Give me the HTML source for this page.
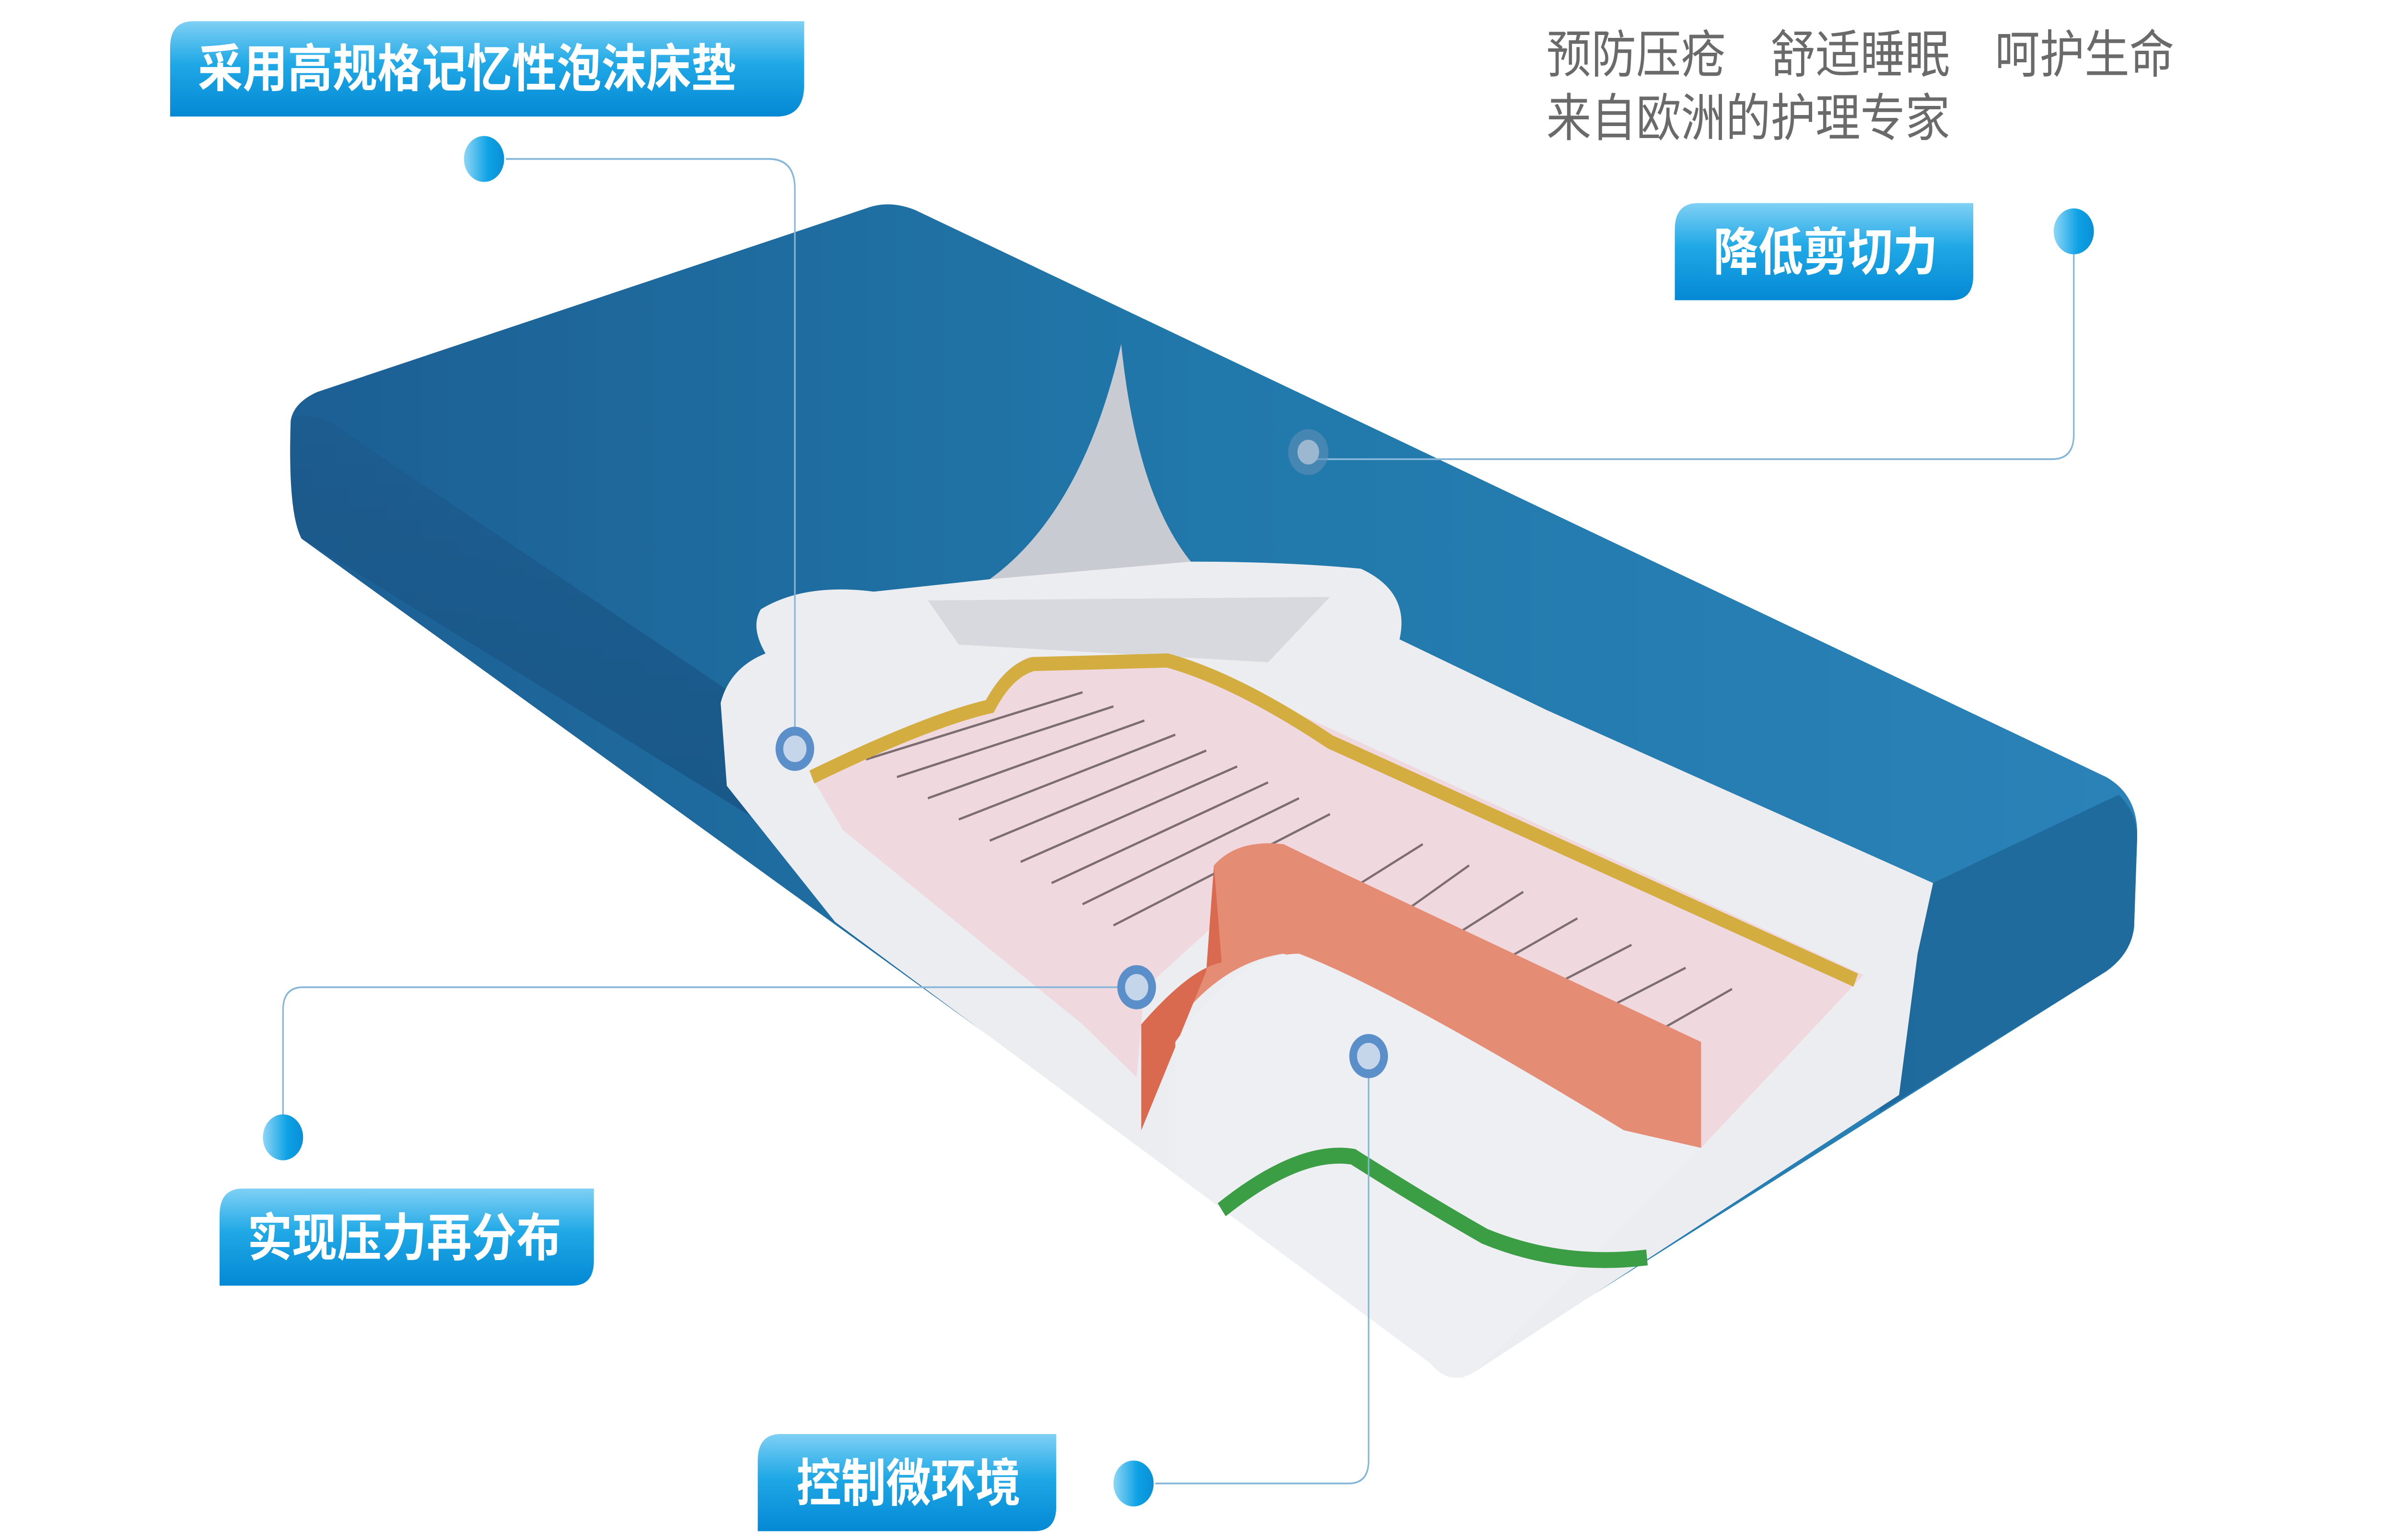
<!DOCTYPE html>
<html><head><meta charset="utf-8"><style>
html,body{margin:0;padding:0;background:#fff;width:100%;height:100%;overflow:hidden;}
svg{display:block;width:100vw;height:100vh;}
text{font-family:"Liberation Sans","Noto Sans CJK SC",sans-serif;}
</style></head><body>
<svg viewBox="0 0 1550 872" preserveAspectRatio="none" xmlns="http://www.w3.org/2000/svg">
<defs>
<linearGradient id="lab" x1="0" y1="0" x2="0" y2="1"><stop offset="0" stop-color="#7fd0f4"/><stop offset="0.45" stop-color="#1fa8e6"/><stop offset="1" stop-color="#0488d4"/></linearGradient>
<linearGradient id="dot" x1="0" y1="0" x2="1" y2="0"><stop offset="0" stop-color="#8fd6f6"/><stop offset="0.6" stop-color="#0ea2e4"/><stop offset="1" stop-color="#0a8ed6"/></linearGradient>
<linearGradient id="blu" x1="0" y1="0" x2="1" y2="0"><stop offset="0" stop-color="#1c5f94"/><stop offset="0.5" stop-color="#2178aa"/><stop offset="1" stop-color="#2a82b8"/></linearGradient>
<linearGradient id="side" x1="0" y1="0" x2="0" y2="1"><stop offset="0" stop-color="#1d5a8c"/><stop offset="1" stop-color="#16507f"/></linearGradient>
</defs>
<path d="M188,238 Q190,228 205,222 L560,118 Q575,113 592,119 L1362,440 Q1382,450 1382,472 L1380,525 Q1378,540 1362,550 L945,780 L195,305 Q186,290 188,238 Z" fill="url(#blu)"/>
<path d="M188,238 Q200,232 215,240 L520,420 L500,470 L195,305 Q186,290 188,238 Z" fill="url(#side)" opacity="0.7"/>
<path d="M1250,500 L1370,450 Q1382,460 1382,475 L1380,525 Q1378,540 1362,550 L1215,630 Z" fill="#1d6597" opacity="0.8"/>
<path d="M492,345 Q520,330 565,335 L640,328 Q700,290 725,195 Q735,280 770,318 Q830,318 880,322 Q912,335 905,362 L1000,402 L1250,500 L1240,540 L1228,620 L955,776 Q938,786 925,772 L540,522 L470,445 L466,398 Q472,378 495,370 Q485,355 492,345 Z" fill="#ecedf0"/>
<path d="M640,328 Q700,290 725,195 Q735,280 770,318 Z" fill="#c9cbd2"/>
<path d="M600,340 L860,338 L820,375 L620,365 Z" fill="#d8d9de"/>
<path d="M525,440 Q600,410 645,395 Q650,378 665,372 L760,372 L1205,552 L1100,650 L1050,640 L790,520 L740,560 L735,610 L700,580 L545,470 Z" fill="#efd9df"/>
<g stroke="#7c6d73" stroke-width="1.3">
<line x1="560" y1="430" x2="700" y2="392"/><line x1="580" y1="440" x2="720" y2="400"/><line x1="600" y1="452" x2="740" y2="408"/><line x1="620" y1="464" x2="760" y2="416"/><line x1="640" y1="476" x2="780" y2="425"/><line x1="660" y1="488" x2="800" y2="434"/><line x1="680" y1="500" x2="820" y2="443"/><line x1="700" y1="512" x2="840" y2="452"/><line x1="720" y1="524" x2="860" y2="461"/>
<line x1="880" y1="500" x2="920" y2="478"/><line x1="910" y1="515" x2="950" y2="490"/><line x1="940" y1="530" x2="985" y2="505"/><line x1="970" y1="545" x2="1020" y2="520"/><line x1="1000" y1="560" x2="1055" y2="535"/><line x1="1030" y1="575" x2="1090" y2="548"/><line x1="1060" y1="590" x2="1120" y2="560"/>
</g>
<path d="M785,490 Q800,475 830,478 L870,495 L1100,590 L1100,650 L1050,640 Q900,560 830,540 Q790,545 760,580 L738,640 L738,580 Q760,560 785,545 Z" fill="#e58c74"/>
<path d="M738,640 L738,580 Q770,548 790,545 L785,490 L780,550 Z" fill="#d96a50"/>
<path d="M525,440 Q600,408 640,400 Q652,380 668,376 L755,374 Q800,385 860,420 L1200,555" fill="none" stroke="#d4ad40" stroke-width="8"/>
<path d="M760,590 Q800,540 840,540 Q900,560 1050,640 L1100,650 L955,776 Q938,786 925,772 L760,665 Z" fill="#eeeff3"/>
<path d="M790,685 Q840,650 875,655 Q920,680 960,700 Q1010,718 1065,712" fill="none" stroke="#3c9e44" stroke-width="9"/>
<g fill="none" stroke="#86b7d8" stroke-width="1">
<path d="M327,90 L497,90 Q514,90 514,107 L514,424"/>
<path d="M1341,140 L1341,246 Q1341,260 1327,260 L846,260"/>
<path d="M183,631 L183,572 Q183,559 196,559 L735,559"/>
<path d="M747,840 L872,840 Q885,840 885,827 L885,598"/>
</g>
<g fill="#c6d6ea" stroke="#5b8fc9" stroke-width="5">
<circle cx="514" cy="424" r="10"/><circle cx="735" cy="559" r="10"/><circle cx="885" cy="598" r="10"/>
</g>
<circle cx="846" cy="256" r="13" fill="#5d8fb8" opacity="0.6"/><circle cx="846" cy="256" r="7" fill="#9cb8d0"/>
<circle cx="313" cy="90" r="13" fill="url(#dot)"/>
<circle cx="1341" cy="131" r="13" fill="url(#dot)"/>
<circle cx="183" cy="644" r="13" fill="url(#dot)"/>
<circle cx="733" cy="840" r="13" fill="url(#dot)"/>
<path d="M125,12 L520,12 L520,48 Q520,66 502,66 L110,66 L110,27 Q110,12 125,12 Z" fill="url(#lab)"/>
<text x="128" y="49" font-size="29" font-weight="bold" fill="#fff">采用高规格记忆性泡沫床垫</text>
<path d="M1098,115 L1276,115 L1276,156 Q1276,170 1262,170 L1083,170 L1083,130 Q1083,115 1098,115 Z" fill="url(#lab)"/>
<text x="1108" y="153" font-size="29" font-weight="bold" fill="#fff">降低剪切力</text>
<path d="M157,673 L384,673 L384,714 Q384,728 370,728 L142,728 L142,688 Q142,673 157,673 Z" fill="url(#lab)"/>
<text x="160" y="711" font-size="29" font-weight="bold" fill="#fff">实现压力再分布</text>
<path d="M505,812 L683,812 L683,853 Q683,867 669,867 L490,867 L490,827 Q490,812 505,812 Z" fill="url(#lab)"/>
<text x="515" y="850" font-size="29" font-weight="bold" fill="#fff">控制微环境</text>
<text x="1000" y="41" font-size="29" fill="#6a6a6a">预防压疮　舒适睡眠　呵护生命</text>
<text x="1000" y="77" font-size="29" fill="#6a6a6a">来自欧洲的护理专家</text>
</svg>
</body></html>
